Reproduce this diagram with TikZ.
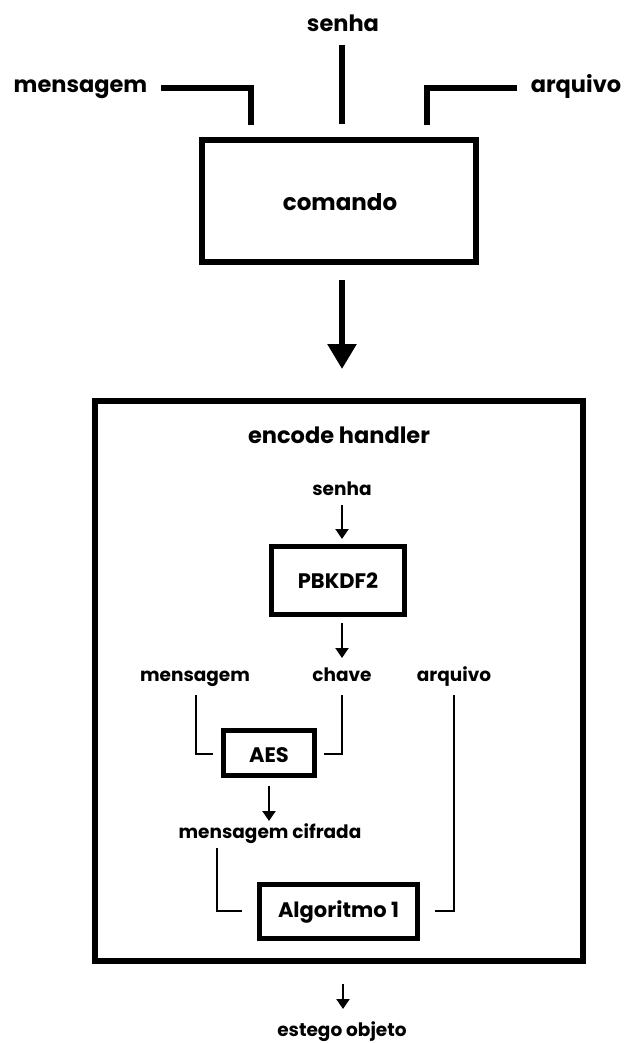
\documentclass[tikz,border=0pt]{standalone}
\usepackage{fontspec}
\setmainfont{Poppins}
\usetikzlibrary{arrows.meta}
\begin{document}
\begin{tikzpicture}[x=1pt,y=-1pt,
  frame/.style={draw, line width=#1, inner sep=0pt, outer sep=0pt},
  bigtxt/.style={font=\bfseries\fontsize{22.5}{22.5}\selectfont, inner sep=0pt, anchor=base},
  boxtxt/.style={font=\bfseries\fontsize{21}{21}\selectfont, inner sep=0pt, anchor=base},
  smalltxt/.style={font=\bfseries\fontsize{18.5}{18.5}\selectfont, inner sep=0pt, anchor=base},
  thickline/.style={line width=5.5pt},
  thinline/.style={line width=2pt},
  bigarrow/.style={line width=5.5pt, -{Triangle[length=25pt,width=28pt]}},
  smallarrow/.style={line width=2pt, -{Triangle[length=10pt,width=13pt]}}]
\useasboundingbox (0,0) rectangle (624,1043);

% ---- inputs and command box
\node[bigtxt] (senhaTop) at (343,32) {senha};
\node[bigtxt] (msgTop) at (80.5,93) {mensagem};
\node[bigtxt] (arqTop) at (576,93) {arquivo};
\node[frame=6pt, minimum width=274pt, minimum height=122pt] (cmd) at (339,201) {};
\node[boxtxt, font=\bfseries\fontsize{23}{23}\selectfont] (cmdtxt) at (340,210) {comando};

\coordinate (msgA) at (161,88);
\coordinate (msgB) at (251,125);
\coordinate (senA) at (342,45);
\coordinate (senB) at (342,124);
\coordinate (arqA) at (517,88);
\coordinate (arqB) at (427,125);
\draw[thickline] (msgA) -| (msgB);
\draw[thickline] (senA) -- (senB);
\draw[thickline] (arqA) -| (arqB);

% ---- handler
\coordinate (cmdOut) at (342,280);
\node[frame=6pt, minimum width=488pt, minimum height=560pt] (handler) at (339,681) {};
\coordinate (handlerIn) at (342,369);
\draw[bigarrow] (cmdOut) -- (handlerIn);
\node[bigtxt] (htitle) at (339,443) {encode handler};

\node[smalltxt] (senha) at (342,495) {senha};
\node[frame=5pt, minimum width=133pt, minimum height=68pt] (kdf) at (338,580.5) {};
\node[boxtxt] at (338,588) {PBKDF2};
\coordinate (senOut) at (342,505);
\coordinate (kdfIn) at (342,539);
\draw[smallarrow] (senOut) -- (kdfIn);

\node[smalltxt] (msg) at (195,681) {mensagem};
\node[smalltxt] (chave) at (342,681) {chave};
\node[smalltxt] (arq) at (454,681) {arquivo};
\coordinate (kdfOut) at (342,623);
\coordinate (chaveIn) at (342,658);
\draw[smallarrow] (kdfOut) -- (chaveIn);

\node[frame=5pt, minimum width=91pt, minimum height=45pt] (aes) at (269,753) {};
\node[boxtxt] at (269,762) {AES};
\coordinate (msgOut) at (196,695);
\coordinate (aesL) at (213,754);
\coordinate (chaveOut) at (342,695);
\coordinate (aesR) at (324,754);
\draw[thinline] (msgOut) |- (aesL);
\draw[thinline] (chaveOut) |- (aesR);

\coordinate (aesOut) at (269,786);
\coordinate (cifIn) at (269,821);
\draw[smallarrow] (aesOut) -- (cifIn);
\node[smalltxt] (cif) at (270,838) {mensagem cifrada};

\node[frame=5pt, minimum width=158pt, minimum height=54pt] (alg) at (338.5,911.5) {};
\node[boxtxt] at (338.5,917) {Algoritmo 1};
\coordinate (cifOut) at (217,848);
\coordinate (algL) at (242,911);
\coordinate (arqOut) at (454,695);
\coordinate (algR) at (435,911);
\draw[thinline] (cifOut) |- (algL);
\draw[thinline] (arqOut) |- (algR);

% ---- output
\coordinate (hOut) at (343,984);
\coordinate (stegIn) at (343,1009);
\draw[smallarrow] (hOut) -- (stegIn);
\node[smalltxt] (steg) at (342,1036) {estego objeto};
\end{tikzpicture}
\end{document}
